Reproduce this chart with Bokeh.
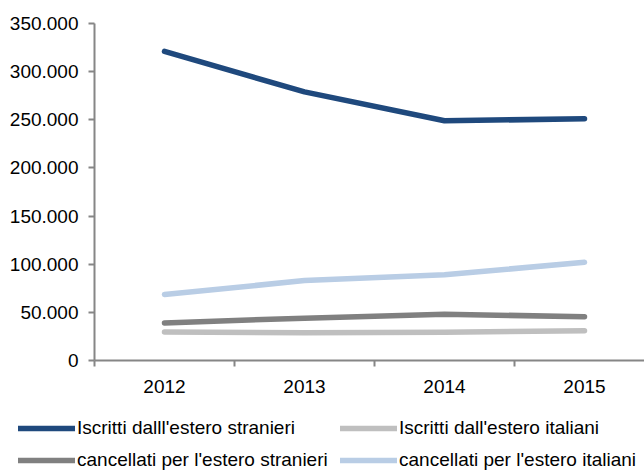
from bokeh.plotting import figure
from bokeh.models import Range1d, FixedTicker, Legend, LegendItem
from bokeh.layouts import column
from bokeh.embed import file_html
from bokeh.resources import INLINE

years = ["2012", "2013", "2014", "2015"]
iscritti_stranieri = [321000, 279000, 249000, 251000]
iscritti_italiani = [29500, 28800, 29300, 31000]
cancellati_stranieri = [39000, 44000, 48000, 45500]
cancellati_italiani = [68500, 83000, 89000, 102000]

series_names = [
    "Iscritti dalll'estero stranieri",
    "Iscritti dall'estero italiani",
    "cancellati per l'estero stranieri",
    "cancellati per l'estero italiani",
]
series_values = [iscritti_stranieri, iscritti_italiani, cancellati_stranieri, cancellati_italiani]
series_colors = ["#1F497D", "#BFBFBF", "#808080", "#B9CDE5"]

y_ticks = [0, 50000, 100000, 150000, 200000, 250000, 300000, 350000]
y_tick_labels = ["0", "50.000", "100.000", "150.000", "200.000", "250.000", "300.000", "350.000"]

FONT = "Liberation Sans"
AXIS_COLOR = "#868686"

x_pos = [i + 0.5 for i in range(len(years))]

p = figure(width=644, height=400, output_backend="svg", toolbar_location=None,
           x_range=Range1d(0, 550 / 140), y_range=Range1d(0, 350000),
           min_border_left=94, min_border_right=0, min_border_top=23, min_border_bottom=40)
p.frame_align = False
p.outline_line_color = None
p.xgrid.visible = False
p.ygrid.visible = False
p.background_fill_color = "white"
p.border_fill_color = "white"

renderers = []
for name, vals, col in zip(series_names, series_values, series_colors):
    r = p.line(x_pos, vals, line_color=col, line_width=5.5, line_cap="round", line_join="round")
    renderers.append(r)

# x axis: labels at category centers, tick marks at category boundaries
xa = p.xaxis[0]
xa.ticker = FixedTicker(ticks=x_pos, minor_ticks=list(range(len(years) + 1)))
xa.major_label_overrides = {x: y for x, y in zip(x_pos, years)}
xa.major_tick_out = 0
xa.major_tick_in = 0
xa.minor_tick_out = 6
xa.minor_tick_in = 0
xa.minor_tick_line_color = AXIS_COLOR
xa.minor_tick_line_width = 2
xa.axis_line_color = AXIS_COLOR
xa.axis_line_width = 2
xa.major_label_text_font = FONT
xa.major_label_text_font_size = "19px"
xa.major_label_text_color = "#000000"
xa.major_label_standoff = 13

ya = p.yaxis[0]
ya.ticker = FixedTicker(ticks=y_ticks, minor_ticks=[])
ya.major_label_overrides = {t: l for t, l in zip(y_ticks, y_tick_labels)}
ya.major_tick_out = 6
ya.major_tick_in = 0
ya.minor_tick_out = 0
ya.minor_tick_in = 0
ya.major_tick_line_color = AXIS_COLOR
ya.major_tick_line_width = 2
ya.axis_line_color = AXIS_COLOR
ya.axis_line_width = 2
ya.major_label_text_font = FONT
ya.major_label_text_font_size = "19px"
ya.major_label_text_color = "#000000"
ya.major_label_standoff = 10

# legend in its own strip below the chart
lg = figure(width=644, height=72, output_backend="svg", toolbar_location=None,
            x_range=Range1d(0, 1), y_range=Range1d(0, 1),
            min_border_left=0, min_border_right=0, min_border_top=0, min_border_bottom=0)
lg.frame_align = False
lg.axis.visible = False
lg.grid.visible = False
lg.outline_line_color = None
lg.background_fill_color = "white"
lg.border_fill_color = "white"

items = []
for name, col in zip(series_names, series_colors):
    # swatch renderer kept outside the visible range: only its legend glyph shows
    r = lg.line([5, 6], [5, 5], line_color=col, line_width=5.5, line_cap="round")
    items.append(LegendItem(label=name, renderers=[r]))

legend = Legend(items=items, location=(18, -4), orientation="horizontal", ncols=2,
                glyph_width=57, glyph_height=32, label_standoff=2, label_width=263,
                label_height=32, spacing=0, padding=0, margin=0,
                label_text_font=FONT, label_text_font_size="19px",
                label_text_color="#000000",
                border_line_color=None, background_fill_alpha=0)
lg.add_layout(legend, "center")

open("out.html", "w").write(file_html(column(p, lg), INLINE))
